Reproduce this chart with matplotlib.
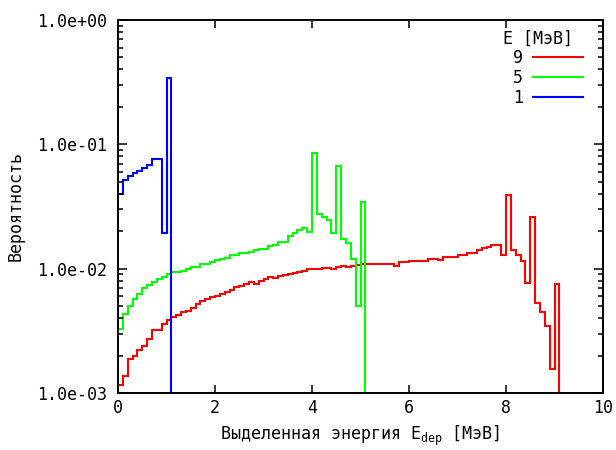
import numpy as np
import matplotlib
matplotlib.use('Agg')
import matplotlib.pyplot as plt
from matplotlib.ticker import FuncFormatter, LogLocator, NullFormatter

plt.rcParams['font.family'] = ['DejaVu Sans Mono']
plt.rcParams['mathtext.fontset'] = 'custom'
plt.rcParams['mathtext.rm'] = 'DejaVu Sans Mono'
plt.rcParams['mathtext.it'] = 'DejaVu Sans Mono'

# Ширина бина гистограммы, МэВ
bin_width = 0.1

# Вероятности по бинам (0.0-0.1, 0.1-0.2, ...), после пика - ноль
p_9MeV = [
    1.17e-3, 1.38e-3, 1.87e-3, 1.99e-3, 2.21e-3, 2.39e-3, 2.74e-3, 3.20e-3, 3.20e-3, 3.57e-3,
    3.85e-3, 4.07e-3, 4.20e-3, 4.44e-3, 4.57e-3, 4.80e-3, 5.18e-3, 5.45e-3, 5.68e-3, 5.92e-3,
    6.05e-3, 6.25e-3, 6.50e-3, 6.70e-3, 7.10e-3, 7.20e-3, 7.50e-3, 7.80e-3, 7.50e-3, 8.00e-3,
    8.20e-3, 8.50e-3, 8.40e-3, 8.70e-3, 8.85e-3, 9.00e-3, 9.25e-3, 9.40e-3, 9.60e-3, 9.85e-3,
    1.00e-2, 1.00e-2, 1.01e-2, 1.02e-2, 1.00e-2, 1.03e-2, 1.06e-2, 1.03e-2, 1.05e-2, 1.07e-2,
    1.081e-2, 1.10e-2, 1.081e-2, 1.10e-2, 1.087e-2, 1.10e-2, 1.087e-2, 1.053e-2, 1.122e-2, 1.122e-2,
    1.149e-2, 1.149e-2, 1.149e-2, 1.149e-2, 1.193e-2, 1.193e-2, 1.171e-2, 1.245e-2, 1.245e-2, 1.245e-2,
    1.284e-2, 1.284e-2, 1.326e-2, 1.326e-2, 1.41e-2, 1.454e-2, 1.498e-2, 1.546e-2, 1.546e-2, 1.284e-2,
    3.90e-2, 1.40e-2, 1.28e-2, 1.15e-2, 7.70e-3, 2.61e-2, 5.25e-3, 4.49e-3, 3.46e-3, 1.57e-3,
    7.50e-3, 0.0,
]

p_5MeV = [
    3.28e-3, 4.28e-3, 4.99e-3, 5.75e-3, 6.20e-3, 6.93e-3, 7.36e-3, 7.83e-3, 8.18e-3, 8.59e-3,
    8.98e-3, 9.32e-3, 9.40e-3, 9.63e-3, 9.95e-3, 1.03e-2, 1.03e-2, 1.10e-2, 1.10e-2, 1.14e-2,
    1.17e-2, 1.19e-2, 1.22e-2, 1.28e-2, 1.28e-2, 1.33e-2, 1.34e-2, 1.37e-2, 1.41e-2, 1.44e-2,
    1.45e-2, 1.51e-2, 1.55e-2, 1.65e-2, 1.65e-2, 1.82e-2, 1.92e-2, 2.04e-2, 2.11e-2, 1.98e-2,
    8.56e-2, 2.75e-2, 2.58e-2, 2.46e-2, 1.92e-2, 6.72e-2, 1.73e-2, 1.60e-2, 1.19e-2, 5.00e-3,
    3.45e-2, 0.0,
]

p_1MeV = [
    4.02e-2, 5.15e-2, 5.58e-2, 5.90e-2, 6.12e-2, 6.40e-2, 6.84e-2, 7.64e-2, 7.64e-2, 1.92e-2,
    3.43e-1, 0.0,
]

series = [('9', p_9MeV, '#ff0000'), ('5', p_5MeV, '#00ff00'), ('1', p_1MeV, '#0000ff')]

fig = plt.figure(figsize=(6.16, 4.5), dpi=100)
ax = fig.add_axes([0.1916, 0.1267, 0.7873, 0.8289])

for label, vals, color in series:
    vals = np.array(vals)
    edges = bin_width * np.arange(len(vals) + 1)
    ax.stairs(vals, edges, baseline=None, color=color, lw=1.5, label=label)

ax.set_yscale('log')
ax.set_xlim(0, 10)
ax.set_ylim(1e-3, 1)
ax.set_xticks([0, 2, 4, 6, 8, 10])
ax.yaxis.set_major_locator(LogLocator(base=10, numticks=10))
ax.yaxis.set_minor_locator(LogLocator(base=10, subs=np.arange(2, 10), numticks=50))
ax.yaxis.set_minor_formatter(NullFormatter())
ax.yaxis.set_major_formatter(FuncFormatter(lambda v, pos: f'{v:.1e}'))

ax.tick_params(which='both', direction='in', top=True, right=True, width=1.1, labelsize=12)
ax.tick_params(axis='y', which='major', length=6.5, pad=8)
ax.tick_params(axis='y', which='minor', length=3.6)
ax.tick_params(axis='x', which='major', length=5.8, pad=4)
for s in ax.spines.values():
    s.set_linewidth(1.4)

ax.set_ylabel('Вероятность', fontsize=12, labelpad=9)
ax.set_xlabel('Выделенная энергия E$_{\\mathrm{dep}}$ [МэВ]', fontsize=12, labelpad=5)

leg = ax.legend(title='E [МэВ] ', loc='upper right', bbox_to_anchor=(0.9732, 0.992),
                frameon=False, markerfirst=False, alignment='right',
                fontsize=12, title_fontsize=12, handlelength=3.0, handletextpad=0.6,
                labelspacing=0.1, borderaxespad=0.0)

fig.savefig('out.png', dpi=100)
